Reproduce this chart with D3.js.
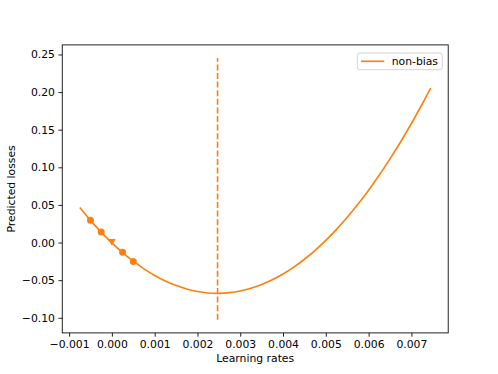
<!DOCTYPE html>
<html>
<head>
<meta charset="utf-8">
<script src="https://cdn.jsdelivr.net/npm/d3@7"></script>
<style>
  body { margin: 0; background: #fff; }
  text { font-family: "DejaVu Sans", sans-serif; }
</style>
</head>
<body>
<div id="main"></div>
<script>
// fitted curve
var curveX = [-0.00075, -0.0005, -0.00025, 0, 0.00025, 0.0005, 0.00075, 0.001, 0.00125, 0.0015,
  0.00175, 0.002, 0.00225, 0.0025, 0.00275, 0.003, 0.00325, 0.0035, 0.00375, 0.004,
  0.00425, 0.0045, 0.00475, 0.005, 0.00525, 0.0055, 0.00575, 0.006, 0.00625, 0.0065,
  0.00675, 0.007, 0.00725, 0.00745];
var curveY = [0.0466, 0.0295, 0.0139, -0.0004, -0.0133, -0.0248, -0.0350, -0.0437, -0.0511, -0.0572,
  -0.0618, -0.0651, -0.0670, -0.0675, -0.0666, -0.0644, -0.0608, -0.0558, -0.0495, -0.0418,
  -0.0327, -0.0222, -0.0103, 0.0029, 0.0175, 0.0335, 0.0508, 0.0696, 0.0897, 0.1112,
  0.1340, 0.1582, 0.1838, 0.2053];

// sampled points (circles) and the current point (triangle)
var sampleX = [-0.0005, -0.00025, 0.00025, 0.0005];
var sampleY = [0.0297, 0.0141, -0.0129, -0.0253];
var currentX = [0];
var currentY = [0.0003];

// best learning rate marker
var bestX = 0.00247;
var bestSpan = [-0.1027, 0.2453];

var xTicks = [-0.001, 0, 0.001, 0.002, 0.003, 0.004, 0.005, 0.006, 0.007];
var yTicks = [-0.10, -0.05, 0.00, 0.05, 0.10, 0.15, 0.20, 0.25];
var seriesName = "non-bias";

var W = 498, H = 374;
var pL = 62.25, pR = 448.2, pT = 44.9, pB = 332.9;
var color = "#ff7f0e";

var svg = d3.select("#main").append("svg")
    .attr("width", W)
    .attr("height", H);

var x = d3.scaleLinear().domain([-0.00116, 0.00786]).range([pL, pR]);
var y = d3.scaleLinear().domain([-0.1201, 0.2627]).range([pB, pT]);

var fmtMinus = function(s) { return s.replace("-", "\u2212"); };

// axes
var xAxis = d3.axisBottom(x).tickValues(xTicks).tickSize(3.8).tickPadding(3.5)
    .tickFormat(function(d) { return fmtMinus(d3.format(".3f")(d)); });
var yAxis = d3.axisLeft(y).tickValues(yTicks).tickSize(3.8).tickPadding(3.5)
    .tickFormat(function(d) { return fmtMinus(d3.format(".2f")(d)); });

var gx = svg.append("g").attr("transform", "translate(0," + pB + ")").call(xAxis);
var gy = svg.append("g").attr("transform", "translate(" + pL + ",0)").call(yAxis);
[gx, gy].forEach(function(g) {
  g.select(".domain").remove();
  g.selectAll(".tick line").attr("stroke", "#000").attr("stroke-width", 0.86);
  g.selectAll(".tick text").attr("font-size", 10.8).attr("fill", "#000")
    .style("font-family", "DejaVu Sans");
});
gx.selectAll(".tick text").attr("dy", "0.71em");

// data
var line = d3.line()
    .x(function(d) { return x(d[0]); })
    .y(function(d) { return y(d[1]); })
    .curve(d3.curveCatmullRom);

svg.append("path")
    .attr("d", line(d3.zip(curveX, curveY)))
    .attr("fill", "none")
    .attr("stroke", color)
    .attr("stroke-width", 1.62);

svg.append("line")
    .attr("x1", x(bestX)).attr("x2", x(bestX))
    .attr("y1", y(bestSpan[0])).attr("y2", y(bestSpan[1]))
    .attr("stroke", color)
    .attr("stroke-width", 1.62)
    .attr("stroke-dasharray", "6,2.6");

svg.selectAll("circle.sample")
    .data(d3.zip(sampleX, sampleY))
    .enter().append("circle")
    .attr("class", "sample")
    .attr("cx", function(d) { return x(d[0]); })
    .attr("cy", function(d) { return y(d[1]); })
    .attr("r", 3.5)
    .attr("fill", color);

svg.selectAll("path.current")
    .data(d3.zip(currentX, currentY))
    .enter().append("path")
    .attr("class", "current")
    .attr("transform", function(d) { return "translate(" + x(d[0]) + "," + y(d[1]) + ")"; })
    .attr("d", "M-3.8,-3.2L3.8,-3.2L0,3.4Z")
    .attr("fill", color);

// frame
svg.append("rect")
    .attr("x", pL).attr("y", pT)
    .attr("width", pR - pL).attr("height", pB - pT)
    .attr("fill", "none")
    .attr("stroke", "#000")
    .attr("stroke-width", 0.86);

// axis labels
svg.append("text")
    .attr("x", (pL + pR) / 2).attr("y", 362)
    .attr("text-anchor", "middle")
    .attr("font-size", 10.8)
    .text("Learning rates");

svg.append("text")
    .attr("transform", "translate(15," + ((pT + pB) / 2) + ") rotate(-90)")
    .attr("text-anchor", "middle")
    .attr("font-size", 10.8)
    .text("Predicted losses");

// legend
var lg = svg.append("g");
lg.append("rect")
    .attr("x", 357.3).attr("y", 53)
    .attr("width", 85).attr("height", 16.7)
    .attr("rx", 2.5)
    .attr("fill", "#fff")
    .attr("fill-opacity", 0.8)
    .attr("stroke", "#ccc")
    .attr("stroke-width", 0.86);
lg.append("line")
    .attr("x1", 361).attr("x2", 384.3)
    .attr("y1", 61.3).attr("y2", 61.3)
    .attr("stroke", color)
    .attr("stroke-width", 1.62);
lg.append("text")
    .attr("x", 391.7).attr("y", 65.2)
    .attr("font-size", 10.8)
    .text(seriesName);
</script>
</body>
</html>
